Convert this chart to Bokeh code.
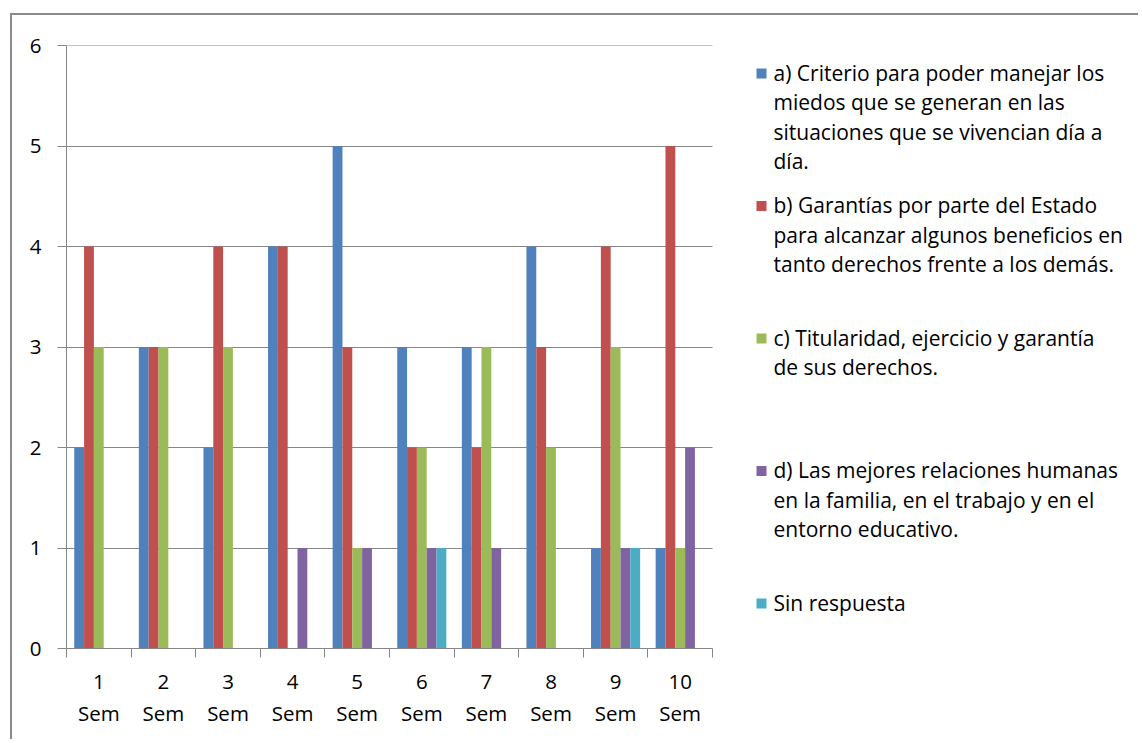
from bokeh.plotting import figure
from bokeh.models import Range1d, FixedTicker
from bokeh.embed import file_html
from bokeh.resources import INLINE
from bokeh.core.properties import value

# ---- data ----
semesters = ["1\nSem", "2\nSem", "3\nSem", "4\nSem", "5\nSem",
             "6\nSem", "7\nSem", "8\nSem", "9\nSem", "10\nSem"]
series_names = [
    "a) Criterio para poder manejar los\nmiedos que se generan en las\nsituaciones que se vivencian día a\ndía.",
    "b) Garantías por parte del Estado\npara alcanzar algunos beneficios en\ntanto derechos frente a los demás.",
    "c) Titularidad, ejercicio y garantía\nde sus derechos.",
    "d) Las mejores relaciones humanas\nen la familia, en el trabajo y en el\nentorno educativo.",
    "Sin respuesta",
]
a_vals = [2, 3, 2, 4, 5, 3, 3, 4, 1, 1]
b_vals = [4, 3, 4, 4, 3, 2, 2, 3, 4, 5]
c_vals = [3, 3, 3, 0, 1, 2, 3, 2, 3, 1]
d_vals = [0, 0, 0, 1, 1, 1, 1, 0, 1, 2]
sr_vals = [0, 0, 0, 0, 0, 1, 0, 0, 1, 0]
y_ticks = [0, 1, 2, 3, 4, 5, 6]

series = [a_vals, b_vals, c_vals, d_vals, sr_vals]
colors = ["#4F81BD", "#C0504D", "#9BBB59", "#8064A2", "#4BACC6"]

FONT = "Open Sans"
FSIZE = "20.5px"
LFSIZE = "21px"
GRAY = "#868686"

# ---- layout (page pixels) ----
OX, OY = 12, 15                # canvas origin on the page (after margin + border)
W, H = 1128, 726
PL, PT = 66, 45                # plot area left / top on the page
PLOT_W, PLOT_H = 646, 603
LEFT, TOP = PL - OX, PT - OY
n = len(semesters)
cat_px = PLOT_W / n
frame_w = W - LEFT
x_end = 0.5 + frame_w / cat_px
y_top = 6.001
px_per_y = PLOT_H / y_top

def page_x(px):   # page x -> data x
    return 0.5 + (px - PL) / cat_px

def page_y(py):   # page y -> data y
    return y_top - (py - PT) / px_per_y

centers = [i + 1 for i in range(n)]
bounds = [i + 0.5 for i in range(n + 1)]
bar_w = 0.152

p = figure(width=W, height=H,
           x_range=Range1d(0.5, x_end), y_range=Range1d(0, y_top),
           output_backend="svg", toolbar_location=None,
           min_border_left=LEFT, min_border_right=0, min_border_top=TOP,
           min_border_bottom=H - TOP - PLOT_H)
p.outline_line_color = None

for k, vals in enumerate(series):
    off = (k - 2) * bar_w
    xs = [c + off for c in centers]
    p.vbar(x=xs, top=vals, width=bar_w, fill_color=colors[k], line_color=None)

# axes
xa = p.xaxis[0]
xa.bounds = (0.5, n + 0.5)
xa.ticker = FixedTicker(ticks=centers, minor_ticks=bounds)
xa.major_label_overrides = {c: s for c, s in zip(centers, semesters)}
xa.major_tick_line_color = None
xa.major_tick_out = 9
xa.major_tick_in = 0
xa.minor_tick_line_color = GRAY
xa.minor_tick_out = 9
xa.minor_tick_in = 0
xa.axis_line_color = GRAY
xa.major_label_standoff = 9
xa.major_label_text_font = FONT
xa.major_label_text_font_size = FSIZE
xa.major_label_text_color = "black"
xa.major_label_text_line_height = 1.17

ya = p.yaxis[0]
ya.ticker = FixedTicker(ticks=y_ticks, minor_ticks=[])
ya.axis_line_color = GRAY
ya.major_tick_line_color = GRAY
ya.major_tick_out = 9
ya.major_tick_in = 0
ya.major_label_standoff = 16
ya.major_label_text_font = FONT
ya.major_label_text_font_size = FSIZE
ya.major_label_text_color = "black"

p.xgrid.visible = False
p.ygrid.grid_line_color = GRAY
p.ygrid.grid_line_width = 1
p.ygrid.cross_bounds = (0.5, n + 0.5)

# legend (drawn in the frame to the right of the plot area)
first_py = 72
entry_pitch = 132.5
line_pitch = 29.6
sq_px, txt_px = 761, 773
tx, ty, tt, sy = [], [], [], []
for k, name in enumerate(series_names):
    y0 = first_py + k * entry_pitch
    sy.append(page_y(y0 + 1))
    for j, line in enumerate(name.split("\n")):
        tx.append(page_x(txt_px))
        ty.append(page_y(y0 + j * line_pitch))
        tt.append(line)
p.scatter(x=[page_x(sq_px)] * len(sy), y=sy, marker="square", size=10,
          fill_color=colors, line_color=None)
p.text(x=tx, y=ty, text=tt, text_font=value(FONT), text_font_size=LFSIZE,
       text_baseline="middle", text_align="left", text_color="black")

# outer chart border (left and top edges) and its position on the page
p.margin = (OY - 2, 0, 0, OX - 2)
p.styles = {"border-left": "2px solid #8a8a8a", "border-top": "2px solid #8a8a8a"}

open("out.html", "w").write(file_html(p, INLINE))
